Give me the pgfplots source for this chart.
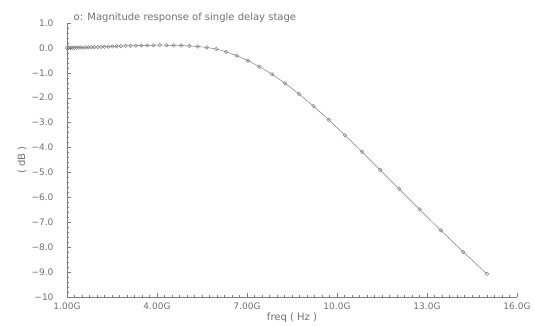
\documentclass[border=0pt]{standalone}
\usepackage{pgfplots}
\pgfplotsset{compat=1.18}
\usepackage{fontspec}
\setmainfont{DejaVu Sans}
\definecolor{txt}{HTML}{707070}
\definecolor{ln}{HTML}{7C7C7C}
\pgfplotstableread{
f db
1.00000 0.000
1.05565 0.002
1.11440 0.004
1.17642 0.006
1.24189 0.008
1.31101 0.010
1.38397 0.012
1.46099 0.015
1.54230 0.018
1.62813 0.021
1.71877 0.024
1.81442 0.028
1.91540 0.032
2.02200 0.037
2.13453 0.042
2.25334 0.047
2.37874 0.053
2.51112 0.059
2.65087 0.065
2.79840 0.071
2.95418 0.078
3.11859 0.085
3.29215 0.091
3.47536 0.097
3.66878 0.102
3.87298 0.106
4.08852 0.108
4.31606 0.107
4.55626 0.103
4.80983 0.094
5.07755 0.079
5.36013 0.055
5.65843 0.020
5.97334 -0.045
6.30577 -0.158
6.65680 -0.312
7.02728 -0.509
7.41836 -0.755
7.83121 -1.056
8.26703 -1.418
8.72720 -1.843
9.21290 -2.333
9.72562 -2.887
10.26687 -3.503
10.83824 -4.177
11.44200 -4.903
12.07880 -5.673
12.75100 -6.482
13.46060 -7.323
14.20970 -8.191
15.00000 -9.080
}\datatable
\begin{document}
\begin{tikzpicture}
\begin{axis}[
  at={(67pt,29pt)}, anchor=south west,
  scale only axis, width=450pt, height=274pt,
  xmin=1, xmax=16, ymin=-10, ymax=1,
  axis x line*=bottom, axis y line*=left,
  axis line style={ln, line width=0.5pt, -},
  xtick={1,4,7,10,13,16},
  xticklabels={1.00G,4.00G,7.00G,10.0G,13.0G,16.0G},
  ytick={1,0,-1,-2,-3,-4,-5,-6,-7,-8,-9,-10},
  yticklabels={1.0,0.0,−1.0,−2.0,−3.0,−4.0,−5.0,−6.0,−7.0,−8.0,−9.0,−10},
  minor x tick num=11, minor y tick num=4,
  tick align=inside, major tick length=4pt, minor tick length=2pt,
  tick style={ln, line width=0.4pt},
  ticklabel style={font=\fontsize{9}{10}\selectfont, text=txt},
  yticklabel style={xshift=-10pt},
  xticklabel style={yshift=-2pt},
  xlabel={freq ( Hz )}, ylabel={( dB )},
  label style={font=\fontsize{10}{12}\selectfont, text=txt},
  xlabel style={at={(axis description cs:0.5,-0.077)}, anchor=center},
  ylabel style={at={(axis description cs:-0.1,0.5)}, anchor=center},
  clip=false,
]
\addplot[ln, line width=0.5pt, mark=o, mark size=1.8pt, mark options={line width=0.45pt}] table[x=f,y=db] {\datatable};
\node[anchor=base west, font=\fontsize{10}{12}\selectfont, text=txt] at (axis description cs:0.007,1.008) {o: Magnitude response of single delay stage};
\end{axis}
\pgfresetboundingbox
\path (0,0) rectangle (535pt,326pt);
\end{tikzpicture}
\end{document}
